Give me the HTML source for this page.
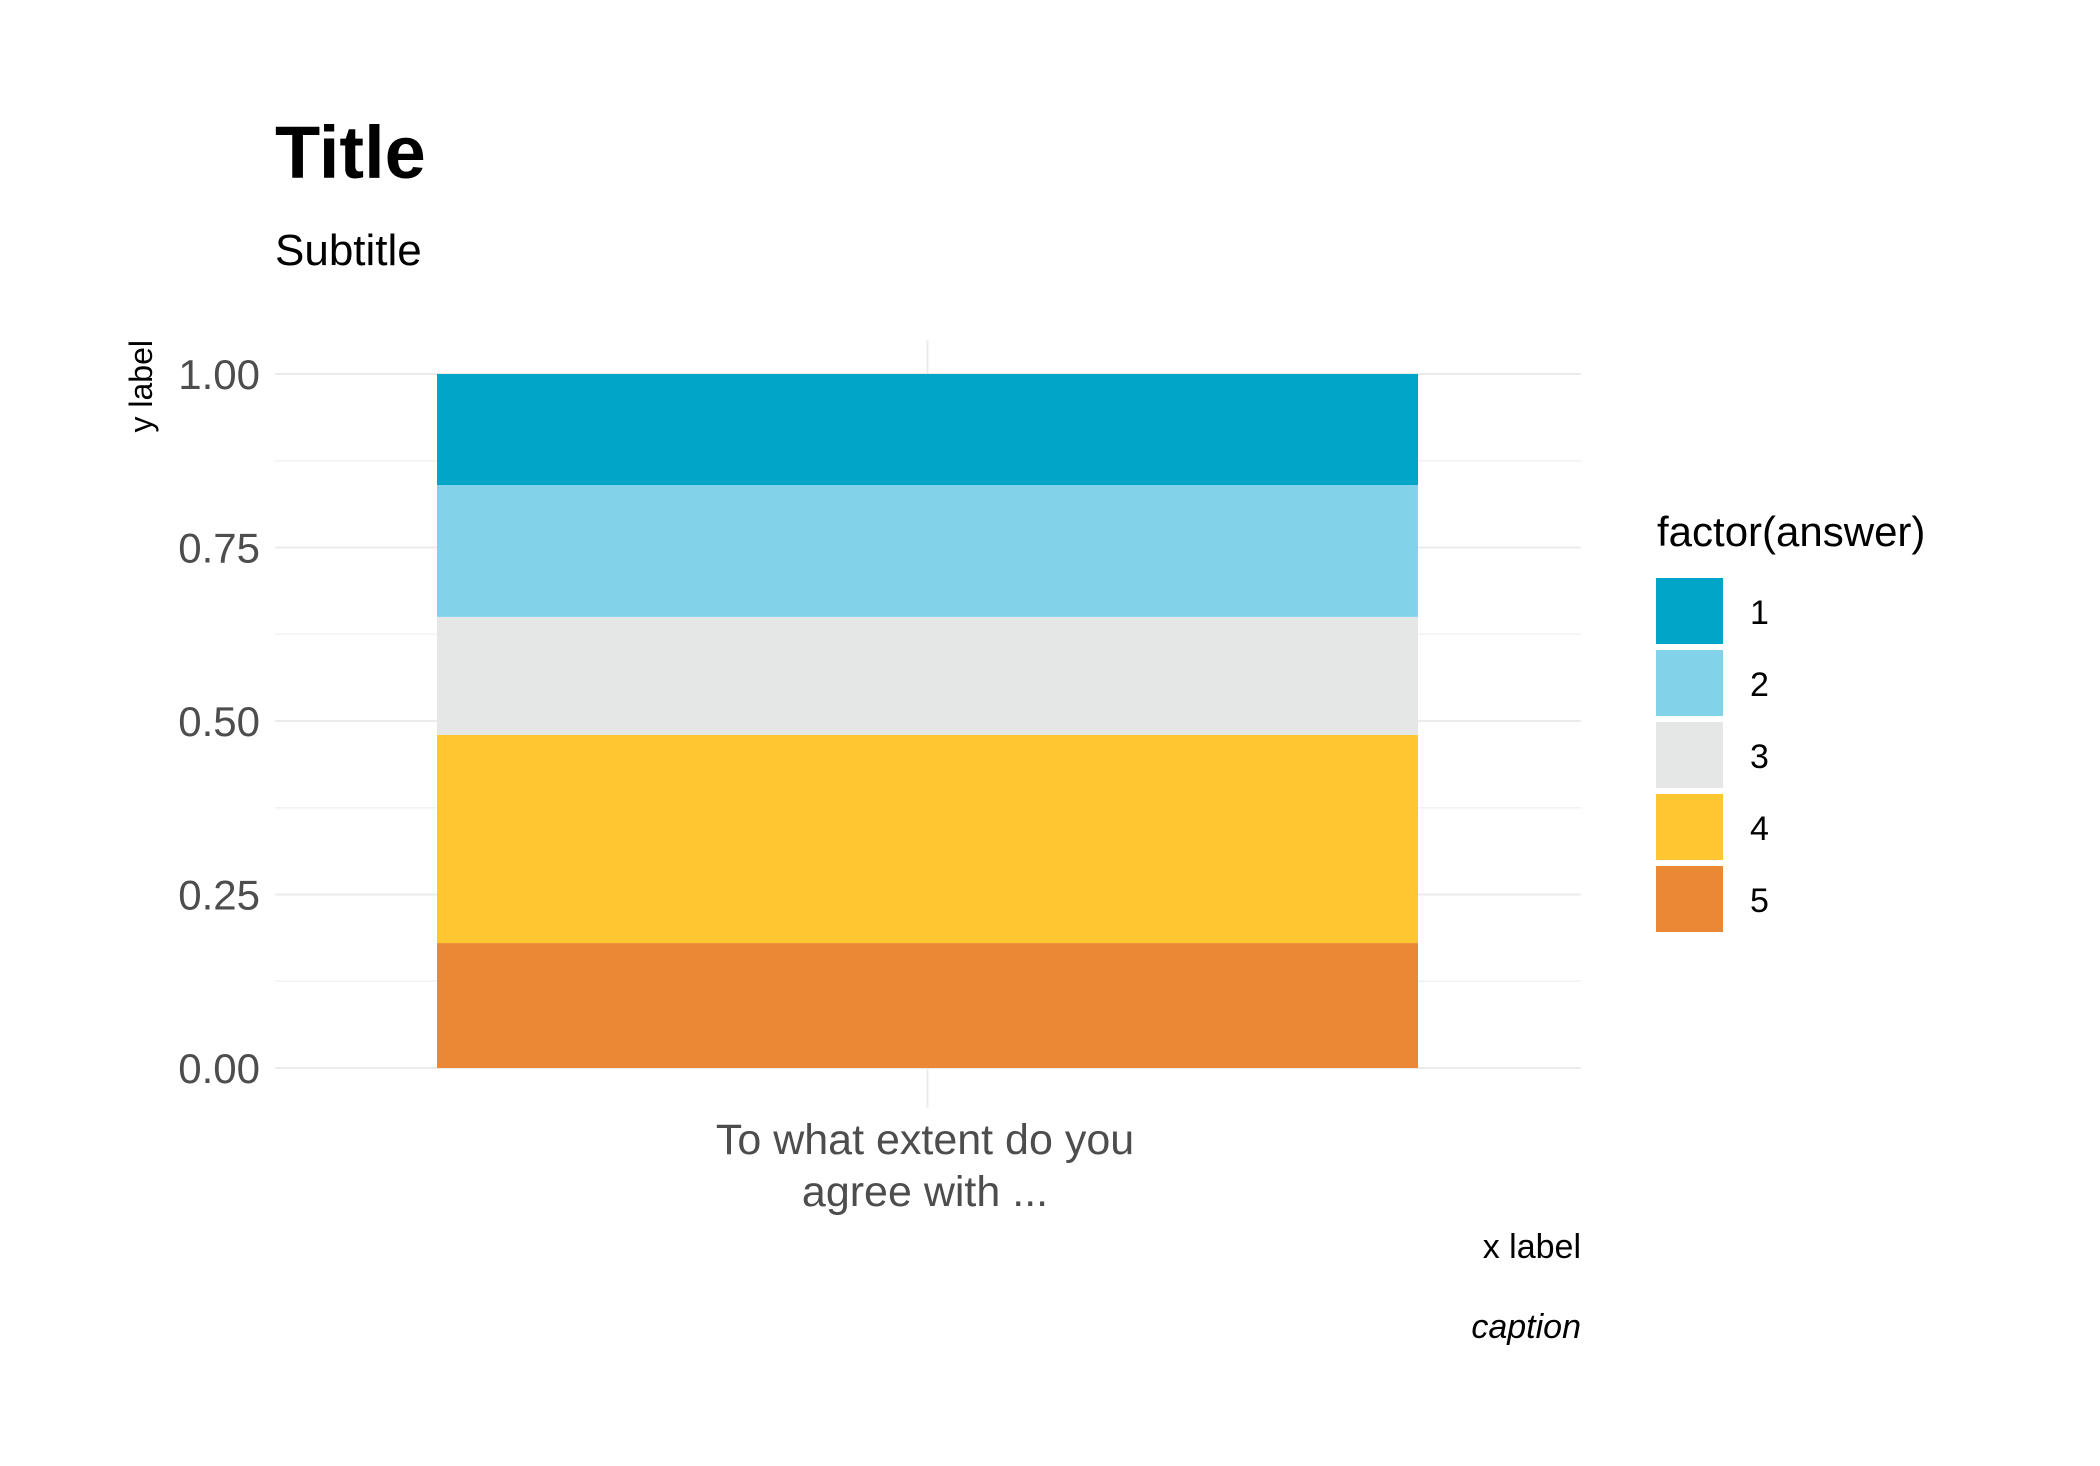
<!DOCTYPE html>
<html><head><meta charset="utf-8"><style>
html,body{margin:0;padding:0;background:#fff;}
svg{display:block;font-family:"Liberation Sans","DejaVu Sans",sans-serif;}
</style></head><body>
<svg id="chart" width="2100" height="1466" viewBox="0 0 2100 1466" xmlns="http://www.w3.org/2000/svg">
<rect width="2100" height="1466" fill="#fff"/>
<text x="275" y="178" font-size="74" font-weight="bold" fill="#000">Title</text>
<text x="275" y="265" font-size="44" fill="#000">Subtitle</text>
<g id="grid"></g>
<g id="bars"></g>
<g id="yticks"></g>
<text transform="translate(152,340) rotate(-90)" text-anchor="end" font-size="32" fill="#000">y label</text>
<text text-anchor="middle" font-size="43" fill="#4d4d4d"><tspan x="925" y="1154">To what extent do you</tspan><tspan x="925" y="1206">agree with ...</tspan></text>
<text x="1581" y="1258" text-anchor="end" font-size="34" fill="#000">x label</text>
<text x="1581" y="1338" text-anchor="end" font-size="34" font-style="italic" fill="#000">caption</text>
<text x="1657" y="546" font-size="42" fill="#000">factor(answer)</text>
<g id="legend"></g>
</svg>
<script>
const categories = ["1", "2", "3", "4", "5"];
const shares = [0.16, 0.19, 0.17, 0.30, 0.18];
const colors = ["#00A5C8", "#82D2EA", "#E5E7E6", "#FEC630", "#EA8836"];
const yTicks = [0, 0.25, 0.5, 0.75, 1.0];
const yTickLabels = ["0.00", "0.25", "0.50", "0.75", "1.00"];

const NS = "http://www.w3.org/2000/svg";
const plotTop = 374, plotBottom = 1068, panelLeft = 275, panelRight = 1581;
const barLeft = 437, barRight = 1418;
function y(v){ return plotBottom - v * (plotBottom - plotTop); }
function mk(tag, attrs){ const e = document.createElementNS(NS, tag); for (const k in attrs) e.setAttribute(k, attrs[k]); return e; }

const grid = document.getElementById('grid');
for (let i = 0; i < yTicks.length; i++) {
  const l = mk('line', {x1: panelLeft, x2: panelRight, y1: y(yTicks[i]), y2: y(yTicks[i]), stroke: '#ebebeb', 'stroke-width': 2});
  
  
  grid.appendChild(l);
  if (i < yTicks.length - 1) {
    const m = (yTicks[i] + yTicks[i + 1]) / 2;
    const lm = mk('line', {x1: panelLeft, x2: panelRight, y1: y(m), y2: y(m), stroke: '#f2f2f2', 'stroke-width': 1.5});
    
    
    grid.appendChild(lm);
  }
}
const vl = mk('line', {x1: (barLeft + barRight) / 2, x2: (barLeft + barRight) / 2, y1: 340, y2: 1108, stroke: '#ebebeb', 'stroke-width': 2});


grid.appendChild(vl);

const bars = document.getElementById('bars');
let cum = 0;
for (let i = shares.length - 1; i >= 0; i--) {
  const lo = cum, hi = cum + shares[i];
  cum = hi;
  const r = mk('rect', {x: barLeft, width: barRight - barLeft, y: y(hi), height: y(lo) - y(hi), fill: colors[i]});
  
  
  bars.appendChild(r);
}

const yt = document.getElementById('yticks');
for (let i = 0; i < yTicks.length; i++) {
  const t = mk('text', {x: 260, y: y(yTicks[i]) + 15, 'text-anchor': 'end', 'font-size': 42, fill: '#4d4d4d'});
  t.textContent = yTickLabels[i];
  
  
  yt.appendChild(t);
}

const lg = document.getElementById('legend');
for (let i = 0; i < categories.length; i++) {
  const top = 578 + i * 72;
  const k = mk('rect', {x: 1656, y: top, width: 67, height: 66, fill: colors[i]});
  
  
  lg.appendChild(k);
  const t = mk('text', {x: 1750, y: top + 46, 'font-size': 34, fill: '#000'});
  t.textContent = categories[i];
  
  
  lg.appendChild(t);
}
</script>
</body></html>
